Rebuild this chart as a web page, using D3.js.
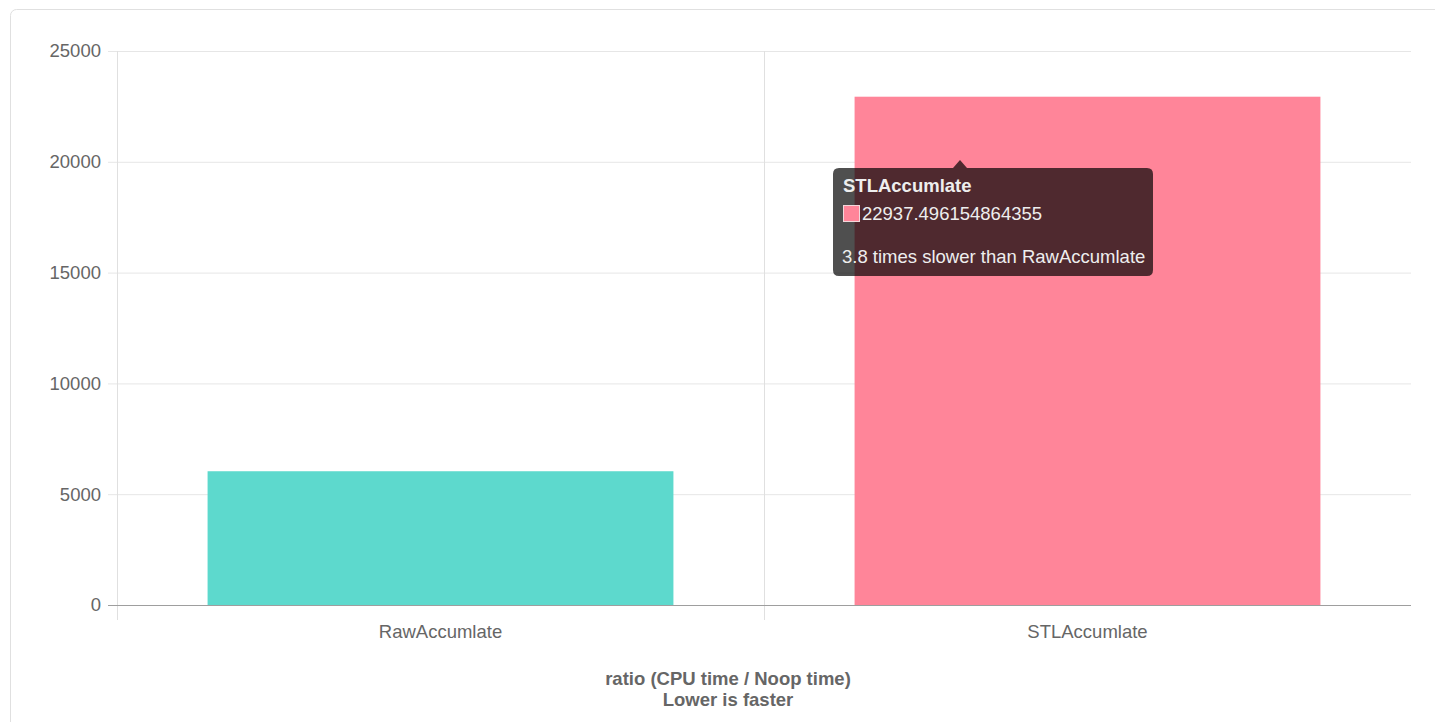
<!DOCTYPE html>
<html>
<head>
<meta charset="utf-8">
<script src="https://cdn.jsdelivr.net/npm/d3@7/dist/d3.min.js"></script>
<style>
  html, body { margin: 0; padding: 0; background: #fff; }
  svg { display: block; font-family: "Liberation Sans", Arial, Helvetica, sans-serif; }
</style>
</head>
<body>
<svg id="chart" width="1435" height="722"></svg>
<script>
// Benchmark ratios (CPU time / Noop time)
const categories = ["RawAccumlate", "STLAccumlate"];
const ratios = [6036.2, 22937.496154864355];
const barColors = ["#5dd9cd", "#ff8599"];
const yTicks = [0, 5000, 10000, 15000, 20000, 25000];
const titleLines = ["ratio (CPU time / Noop time)", "Lower is faster"];
const hoveredIndex = 1;   // bar whose tooltip is showing
const baselineIndex = 0;  // bar the tooltip compares against

const svg = d3.select("#chart");
const W = 1435, H = 722;
const plot = { left: 117, right: 1411, top: 51, bottom: 605 };
const FS = 18.5;

// card frame
svg.append("rect")
  .attr("x", 10.5).attr("y", 9.5)
  .attr("width", W + 20).attr("height", H + 20)
  .attr("rx", 6)
  .attr("fill", "#fff")
  .attr("stroke", "#e0e0e0");

const x = d3.scaleBand().domain(categories).range([plot.left, plot.right]).paddingInner(0).paddingOuter(0);
const y = d3.scaleLinear().domain([0, 25000]).range([plot.bottom, plot.top]);

// horizontal grid + y axis labels
const yAxis = d3.axisLeft(y)
  .tickValues(yTicks)
  .tickFormat(d3.format("d"))
  .tickSize(plot.right - plot.left + 9)
  .tickPadding(7);
const gy = svg.append("g")
  .attr("transform", `translate(${plot.right},0)`)
  .call(yAxis);
gy.select(".domain").remove();
gy.selectAll(".tick line")
  .attr("stroke", d => d === 0 ? "#9e9e9e" : "#e6e6e6")
  .attr("stroke-width", 1);
gy.selectAll(".tick text")
  .attr("fill", "#666")
  .attr("font-size", FS)
  .attr("font-family", "Liberation Sans, Arial, sans-serif");

// vertical grid lines at category boundaries
const boundaries = categories.map(c => x(c));
svg.append("g").selectAll("line")
  .data(boundaries)
  .join("line")
  .attr("x1", d => Math.round(d) + 0.5).attr("x2", d => Math.round(d) + 0.5)
  .attr("y1", plot.top).attr("y2", plot.bottom + 15)
  .attr("stroke", "#e0e0e0");

// bars
const barW = x.bandwidth() * 0.72;
svg.append("g").selectAll("rect")
  .data(categories)
  .join("rect")
  .attr("x", d => x(d) + (x.bandwidth() - barW) / 2)
  .attr("width", barW)
  .attr("y", (d, i) => y(ratios[i]))
  .attr("height", (d, i) => y(0) - y(ratios[i]))
  .attr("fill", (d, i) => barColors[i]);

// redraw zero line above bars
svg.append("line")
  .attr("x1", plot.left - 9).attr("x2", plot.right)
  .attr("y1", y(0) + 0.5).attr("y2", y(0) + 0.5)
  .attr("stroke", "#9e9e9e");

// x axis labels
svg.append("g").selectAll("text")
  .data(categories)
  .join("text")
  .attr("x", d => x(d) + x.bandwidth() / 2)
  .attr("y", plot.bottom + 27)
  .attr("dy", "0.35em")
  .attr("text-anchor", "middle")
  .attr("fill", "#666")
  .attr("font-size", FS)
  .text(d => d);

// axis title
svg.append("g").selectAll("text")
  .data(titleLines)
  .join("text")
  .attr("x", 728)
  .attr("y", (d, i) => 679 + i * 21)
  .attr("dy", "0.35em")
  .attr("text-anchor", "middle")
  .attr("fill", "#666")
  .attr("font-size", FS)
  .attr("font-weight", "bold")
  .text(d => d);

// tooltip for the hovered bar
const tip = { x: 833, y: 168, w: 320, h: 108, caretX: 960 };
const tg = svg.append("g");
const r = 6;
const path = d3.path();
path.moveTo(tip.x + r, tip.y);
path.lineTo(tip.caretX - 7, tip.y);
path.lineTo(tip.caretX, tip.y - 8);
path.lineTo(tip.caretX + 7, tip.y);
path.lineTo(tip.x + tip.w - r, tip.y);
path.quadraticCurveTo(tip.x + tip.w, tip.y, tip.x + tip.w, tip.y + r);
path.lineTo(tip.x + tip.w, tip.y + tip.h - r);
path.quadraticCurveTo(tip.x + tip.w, tip.y + tip.h, tip.x + tip.w - r, tip.y + tip.h);
path.lineTo(tip.x + r, tip.y + tip.h);
path.quadraticCurveTo(tip.x, tip.y + tip.h, tip.x, tip.y + tip.h - r);
path.lineTo(tip.x, tip.y + r);
path.quadraticCurveTo(tip.x, tip.y, tip.x + r, tip.y);
path.closePath();
tg.append("path").attr("d", path.toString()).attr("fill", "rgba(0,0,0,0.69)");

tg.append("text")
  .attr("x", tip.x + 10).attr("y", tip.y + 18)
  .attr("dy", "0.35em")
  .attr("fill", "#eeeeee")
  .attr("font-size", FS)
  .attr("font-weight", "bold")
  .text(categories[hoveredIndex]);

tg.append("rect")
  .attr("x", tip.x + 10.5).attr("y", tip.y + 37.5)
  .attr("width", 16).attr("height", 16)
  .attr("fill", barColors[hoveredIndex])
  .attr("stroke", "#f2d7db").attr("stroke-width", 1);

tg.append("text")
  .attr("x", tip.x + 29).attr("y", tip.y + 46)
  .attr("dy", "0.35em")
  .attr("fill", "#eeeeee")
  .attr("font-size", FS)
  .text(String(ratios[hoveredIndex]));

const factor = (ratios[hoveredIndex] / ratios[baselineIndex]).toFixed(1);
tg.append("text")
  .attr("x", tip.x + 9).attr("y", tip.y + 89)
  .attr("dy", "0.35em")
  .attr("fill", "#eeeeee")
  .attr("font-size", FS)
  .text(`${factor} times slower than ${categories[baselineIndex]}`);
</script>
</body>
</html>
